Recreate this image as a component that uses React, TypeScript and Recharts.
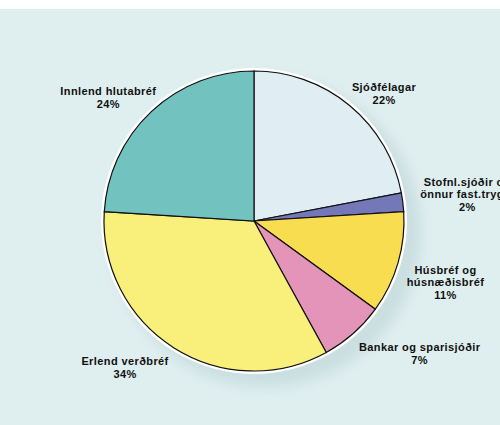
import React from "react";
import { PieChart, Pie, Cell } from "recharts";

const categories = [
  "Sjóðfélagar",
  "Stofnl.sjóðir og\nönnur fast.trygg.",
  "Húsbréf og\nhúsnæðisbréf",
  "Bankar og sparisjóðir",
  "Erlend verðbréf",
  "Innlend hlutabréf",
];
const shares = [22, 2, 11, 7, 34, 24];
const colors = ["#e0eef3", "#7478b8", "#f9dd50", "#e494b8", "#f8f07a", "#72c3bf"];

// label placement: angle shift (deg) and distance from centre
const labelPos = [
  [-6, 182],
  [0, 215],
  [-1.5, 201],
  [10, 212],
  [-9, 195],
  [6.5, 191],
];

const data = categories.map((name, i) => ({ name, value: shares[i] }));
const RAD = Math.PI / 180;
const LINE = 12.5;

const renderLabel = (props: any) => {
  const { cx, cy, midAngle, index, value } = props;
  const [da, dist] = labelPos[index];
  const a = (midAngle + da) * RAD;
  const x = cx + dist * Math.cos(-a);
  const y = cy + dist * Math.sin(-a);
  const lines = [...categories[index].split("\n"), `${value}%`];
  const top = y - ((lines.length - 1) * LINE) / 2;
  return (
    <text
      x={x}
      y={top}
      textAnchor="middle"
      dominantBaseline="central"
      fontFamily="'Liberation Sans', Arial, sans-serif"
      fontWeight="bold"
      fontSize={11}
      letterSpacing={0.4}
      fill="#111"
    >
      {lines.map((l, k) => (
        <tspan key={k} x={x} y={top + k * LINE}>
          {l}
        </tspan>
      ))}
    </text>
  );
};

export default function App() {
  return (
    <div
      style={{
        position: "absolute",
        left: 0,
        top: 0,
        width: 500,
        height: 425,
        background: "#fff",
      }}
    >
      <div
        style={{
          position: "absolute",
          left: 0,
          top: 9,
          width: 500,
          height: 416,
          background: "#dfeeef",
        }}
      />
      <div style={{ position: "absolute", left: 0, top: 0 }}>
        <PieChart width={500} height={425} margin={{ top: 0, right: 0, bottom: 0, left: 0 }}>
          <defs>
            <filter id="soft" x="-20%" y="-20%" width="140%" height="140%">
              <feGaussianBlur stdDeviation="6" />
            </filter>
          </defs>
          <Pie
            data={[{ name: "shadow", value: 1 }]}
            dataKey="value"
            cx={266}
            cy={232}
            outerRadius={155}
            fill="#cbdfe1"
            stroke="none"
            isAnimationActive={false}
            style={{ filter: "url(#soft)" }}
          />
          <Pie
            data={[{ name: "ring", value: 1 }]}
            dataKey="value"
            cx={254}
            cy={221}
            outerRadius={153}
            fill="#ffffff"
            stroke="none"
            isAnimationActive={false}
          />
          <Pie
            data={data}
            dataKey="value"
            nameKey="name"
            cx={254}
            cy={221}
            outerRadius={150}
            startAngle={90}
            endAngle={-270}
            stroke="#111"
            strokeWidth={1.2}
            label={renderLabel}
            labelLine={false}
            isAnimationActive={false}
          >
            {data.map((d, i) => (
              <Cell key={d.name} fill={colors[i]} />
            ))}
          </Pie>
        </PieChart>
      </div>
    </div>
  );
}
